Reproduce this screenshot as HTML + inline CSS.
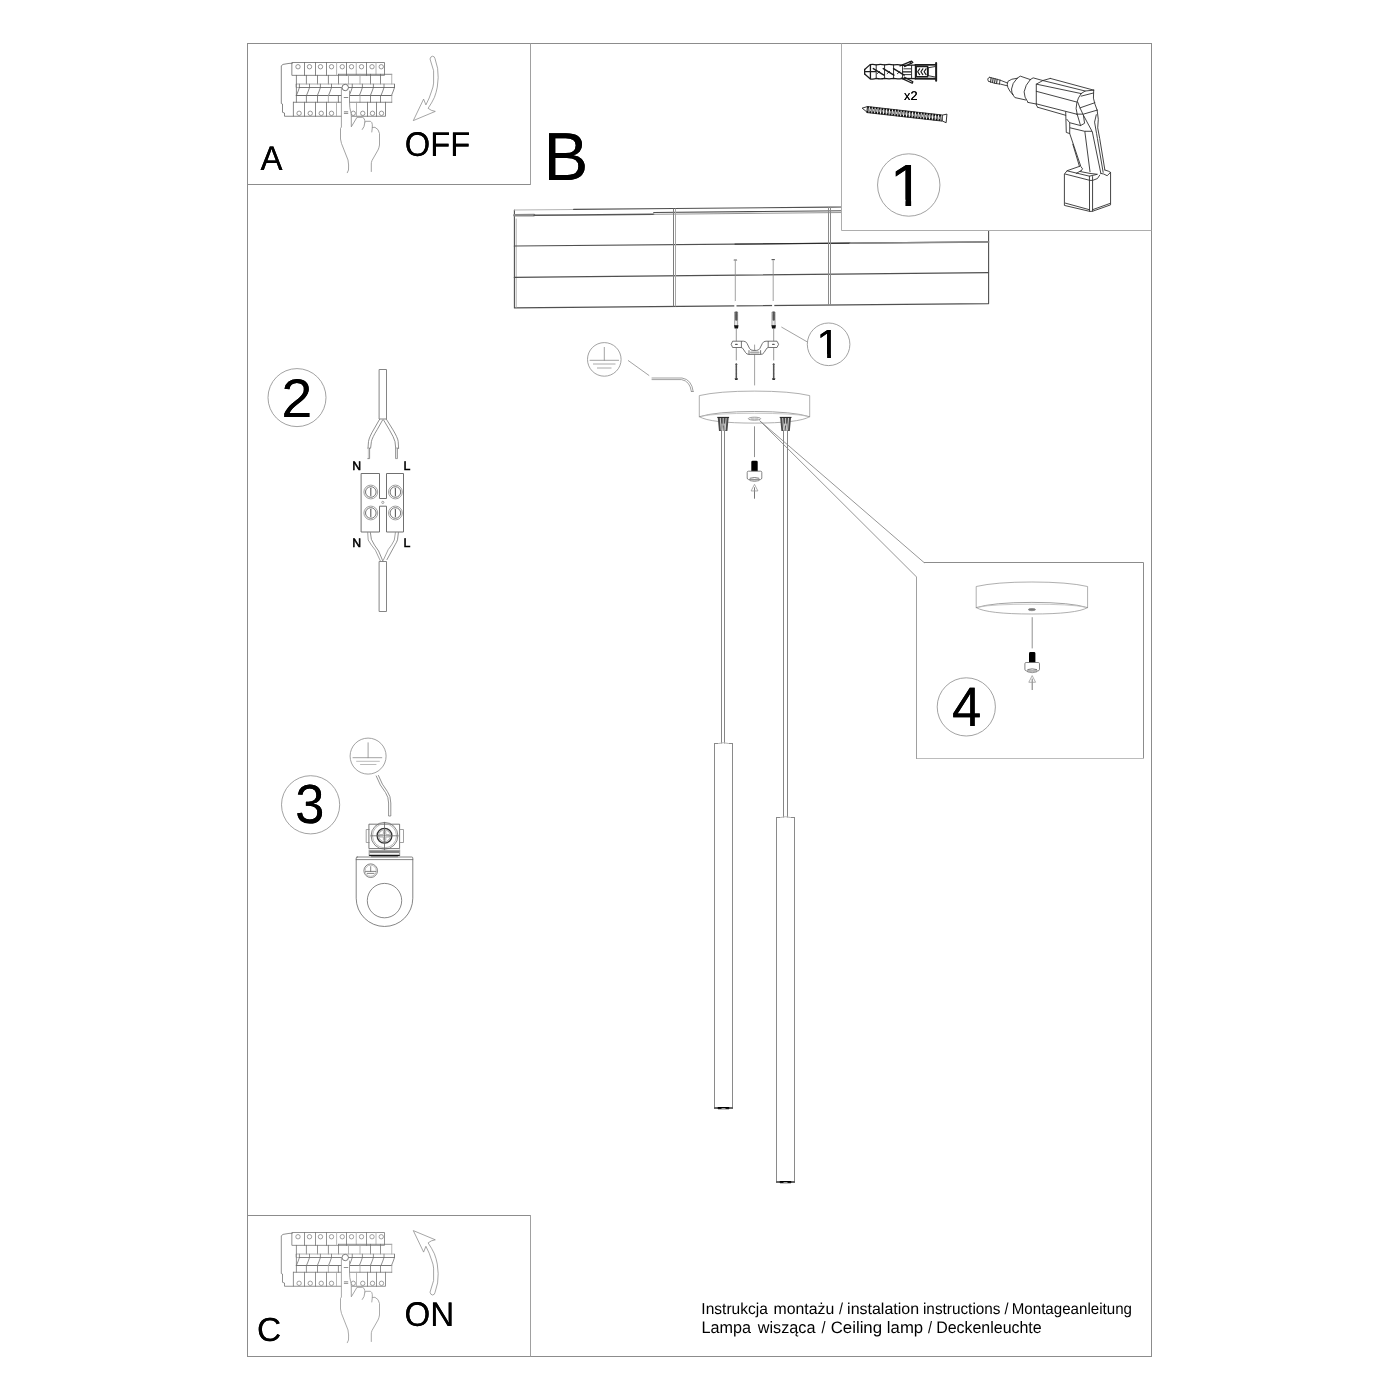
<!DOCTYPE html>
<html lang="pl">
<head>
<meta charset="utf-8">
<title>Instrukcja montażu / instalation instructions / Montageanleitung</title>
<style>
html,body{margin:0;padding:0;background:#fff;}
body{width:1400px;height:1400px;overflow:hidden;}
svg{display:block;will-change:transform;}
.f{fill:none;stroke:#8c8c8c;stroke-width:1;}
.fw{fill:#fff;stroke:#8c8c8c;stroke-width:1;}
.l{fill:none;stroke:#5c5c5c;stroke-width:.85;stroke-linecap:round;stroke-linejoin:round;}
.lw{fill:#fff;stroke:#5c5c5c;stroke-width:.85;stroke-linejoin:round;}
.g{fill:none;stroke:#8a8a8a;stroke-width:.8;stroke-linecap:round;stroke-linejoin:round;}
.gw{fill:#fff;stroke:#8a8a8a;stroke-width:.8;stroke-linejoin:round;}
.k{fill:none;stroke:#303030;stroke-width:.9;stroke-linecap:round;stroke-linejoin:round;}
.kw{fill:#fff;stroke:#303030;stroke-width:.9;stroke-linejoin:round;}
.b{fill:#000;stroke:none;}
circle,ellipse{stroke-linecap:butt !important;}
#plug .k,#screw .kw{stroke:#1c1c1c;}
#brk .l{stroke:#6a6a6a;stroke-width:.8;}
#brk .g{stroke:#a0a0a0;}
.t{font-family:"Liberation Sans",sans-serif;fill:#000;text-rendering:geometricPrecision;}
</style>
</head>
<body>
<svg width="1400" height="1400" viewBox="0 0 1400 1400" role="img" aria-label="Instrukcja montażu">
<rect x="0" y="0" width="1400" height="1400" fill="#fff"/>
<defs><filter id="vb" x="-5%" y="-5%" width="110%" height="110%"><feOffset dy="-0.22" result="a"/><feOffset in="SourceGraphic" dy="0.22" result="b"/><feMerge><feMergeNode in="a"/><feMergeNode in="b"/></feMerge></filter></defs>
<g id="frame">
<rect class="f" x="247.5" y="43.5" width="904" height="1313"/>
<path class="f" d="M247.5 184.5H531 M247.5 1215.5H531"/>
<path class="f" d="M530.5 43.5V185 M530.5 1215V1356.5" style="stroke:#a0a0a0"/>
</g>
<g id="labels">
<text class="t" transform="translate(260.62 169.50) scale(1.0025 1.0410)" font-size="32.98" filter="url(#vb)">A</text>
<text class="t" transform="translate(404.74 156.06) scale(0.9934 1.0410)" font-size="32.99" filter="url(#vb)">OFF</text>
<text class="t" transform="translate(543.46 179.75) scale(1.0278 1.0410)" font-size="65.32" filter="url(#vb)">B</text>
<text class="t" transform="translate(256.92 1341.27) scale(1.0416 1.0410)" font-size="32.18" filter="url(#vb)">C</text>
<text class="t" transform="translate(404.53 1326.36) scale(1.0044 1.0410)" font-size="32.99" filter="url(#vb)">ON</text>
<text class="t" transform="translate(0 1314.00) scale(1 1.0410)" font-size="15.20"><tspan x="701.36" y="0" textLength="66.47" lengthAdjust="spacingAndGlyphs">Instrukcja</tspan> <tspan x="773.43" y="0" textLength="60.81" lengthAdjust="spacingAndGlyphs">montażu</tspan> <tspan x="839.00" y="0" textLength="4.01" lengthAdjust="spacingAndGlyphs">/</tspan> <tspan x="847.12" y="0" textLength="71.93" lengthAdjust="spacingAndGlyphs">instalation</tspan> <tspan x="922.96" y="0" textLength="77.58" lengthAdjust="spacingAndGlyphs">instructions</tspan> <tspan x="1004.50" y="0" textLength="4.01" lengthAdjust="spacingAndGlyphs">/</tspan> <tspan x="1011.75" y="0" textLength="120.21" lengthAdjust="spacingAndGlyphs">Montageanleitung</tspan></text>
<text class="t" transform="translate(0 1333.00) scale(1 1.0410)" font-size="15.90"><tspan x="701.46" y="0" textLength="49.54" lengthAdjust="spacingAndGlyphs">Lampa</tspan> <tspan x="757.80" y="0" textLength="57.73" lengthAdjust="spacingAndGlyphs">wisząca</tspan> <tspan x="821.50" y="0" textLength="4.01" lengthAdjust="spacingAndGlyphs">/</tspan> <tspan x="830.66" y="0" textLength="51.43" lengthAdjust="spacingAndGlyphs">Ceiling</tspan> <tspan x="886.87" y="0" textLength="36.30" lengthAdjust="spacingAndGlyphs">lamp</tspan> <tspan x="928.00" y="0" textLength="4.01" lengthAdjust="spacingAndGlyphs">/</tspan> <tspan x="936.18" y="0" textLength="105.50" lengthAdjust="spacingAndGlyphs">Deckenleuchte</tspan></text>
</g>
<defs><g id="brk">
<path class="l" d="M292.25 63.3 L289 63.4 L283 64.4 L281.3 65.8 L281.3 103.5 L282.5 104 L282.5 112.3 L284.5 113 L284.5 116.25 L293.4 116.25" style="stroke:#6a6a6a"/>
<rect class="l" x="292.25" y="62.5" width="92.25" height="12.85"/>
<line class="l" x1="304.5" y1="62.5" x2="304.5" y2="75.35"/>
<line class="l" x1="315.5" y1="62.5" x2="315.5" y2="75.35"/>
<line class="l" x1="326.5" y1="62.5" x2="326.5" y2="75.35"/>
<line class="g" x1="336.6" y1="62.5" x2="336.6" y2="75.35"/>
<line class="l" x1="346.5" y1="62.5" x2="346.5" y2="75.35"/>
<line class="g" x1="356.25" y1="62.5" x2="356.25" y2="75.35"/>
<line class="l" x1="366.5" y1="62.5" x2="366.5" y2="75.35"/>
<line class="g" x1="376" y1="62.5" x2="376" y2="75.35"/>
<circle class="l" cx="298" cy="66.75" r="2.2" style="stroke:#7c7c7c"/>
<circle class="l" cx="309.5" cy="66.75" r="2.2" style="stroke:#7c7c7c"/>
<circle class="l" cx="320.5" cy="66.75" r="2.2" style="stroke:#7c7c7c"/>
<circle class="l" cx="331.5" cy="66.75" r="2.2" style="stroke:#7c7c7c"/>
<circle class="l" cx="342.25" cy="66.75" r="2.2" style="stroke:#7c7c7c"/>
<circle class="l" cx="351.5" cy="66.75" r="2.2" style="stroke:#7c7c7c"/>
<circle class="l" cx="361.5" cy="66.75" r="2.2" style="stroke:#7c7c7c"/>
<circle class="l" cx="372" cy="66.75" r="2.2" style="stroke:#7c7c7c"/>
<circle class="l" cx="381.25" cy="66.75" r="2.2" style="stroke:#7c7c7c"/>
<path class="l" d="M296.4 75.35V84 M338.4 74.3H391.75"/>
<line class="l" x1="306.4" y1="75.35" x2="306.4" y2="84"/>
<line class="l" x1="317.5" y1="75.35" x2="317.5" y2="84"/>
<line class="l" x1="328.4" y1="75.35" x2="328.4" y2="84"/>
<line class="l" x1="338.5" y1="74.3" x2="338.5" y2="84"/>
<line class="g" x1="348.5" y1="74.3" x2="348.5" y2="84"/>
<line class="g" x1="360" y1="74.3" x2="360" y2="84"/>
<line class="l" x1="370.5" y1="74.3" x2="370.5" y2="84"/>
<line class="l" x1="380.5" y1="74.3" x2="380.5" y2="84"/>
<line class="g" x1="391.75" y1="74.3" x2="391.75" y2="84"/>
<path class="g" d="M296.4 84H394.5V87.5H296.4Z"/>
<line class="l" x1="299.4" y1="87.5" x2="394.5" y2="87.5"/>
<line class="l" x1="299.4" y1="84.2" x2="299.4" y2="87.5"/>
<path class="l" d="M299.4 87.5 L298.2 91 L296.4 95.5"/>
<line class="l" x1="309.5" y1="84.2" x2="309.5" y2="87.5"/>
<path class="l" d="M309.5 87.5 L308.3 91 L306.5 95.5"/>
<line class="l" x1="320.4" y1="84.2" x2="320.4" y2="87.5"/>
<path class="l" d="M320.4 87.5 L319.2 91 L317.4 95.5"/>
<line class="l" x1="331.5" y1="84.2" x2="331.5" y2="87.5"/>
<path class="l" d="M331.5 87.5 L330.3 91 L328.5 95.5"/>
<line class="l" x1="352.25" y1="84.2" x2="352.25" y2="87.5"/>
<path class="l" d="M352.25 87.5 L351.05 91 L349.25 95.5"/>
<line class="l" x1="362.4" y1="84.2" x2="362.4" y2="87.5"/>
<path class="l" d="M362.4 87.5 L361.2 91 L359.4 95.5"/>
<line class="l" x1="373.4" y1="84.2" x2="373.4" y2="87.5"/>
<path class="l" d="M373.4 87.5 L372.2 91 L370.4 95.5"/>
<line class="l" x1="384" y1="84.2" x2="384" y2="87.5"/>
<path class="l" d="M384 87.5 L382.8 91 L381 95.5"/>
<line class="l" x1="394.5" y1="84.2" x2="394.5" y2="87.5"/>
<path class="l" d="M394.5 87.5 L393.3 91 L391.5 95.5"/>
<path class="l" d="M296.4 84V95.5"/>
<line class="l" x1="296.4" y1="95.5" x2="391.75" y2="95.5" style="stroke-width:1.2"/>
<line class="l" x1="296.4" y1="95.5" x2="296.4" y2="102.25"/>
<line class="l" x1="306.4" y1="95.5" x2="306.4" y2="102.25"/>
<line class="l" x1="317.5" y1="95.5" x2="317.5" y2="102.25"/>
<line class="g" x1="328.4" y1="95.5" x2="328.4" y2="102.25"/>
<line class="l" x1="338.4" y1="95.5" x2="338.4" y2="102.25"/>
<line class="l" x1="349.5" y1="95.5" x2="349.5" y2="102.25"/>
<line class="g" x1="360" y1="95.5" x2="360" y2="102.25"/>
<line class="l" x1="370.5" y1="95.5" x2="370.5" y2="102.25"/>
<line class="l" x1="380.5" y1="95.5" x2="380.5" y2="102.25"/>
<line class="g" x1="391.75" y1="95.5" x2="391.75" y2="102.25"/>
<line class="l" x1="293.4" y1="102.25" x2="391.75" y2="102.25"/>
<path class="l" d="M293.4 102.25V116.25H385.5V102.25"/>
<line class="l" x1="304.5" y1="102.25" x2="304.5" y2="116.25"/>
<line class="l" x1="315.5" y1="102.25" x2="315.5" y2="116.25"/>
<line class="l" x1="326.5" y1="102.25" x2="326.5" y2="116.25"/>
<line class="g" x1="336.5" y1="102.25" x2="336.5" y2="116.25"/>
<line class="g" x1="356.5" y1="102.25" x2="356.5" y2="116.25"/>
<line class="l" x1="367.5" y1="102.25" x2="367.5" y2="116.25"/>
<line class="l" x1="376.5" y1="102.25" x2="376.5" y2="116.25"/>
<circle class="l" cx="299.1" cy="113.3" r="2.2" style="stroke:#7c7c7c"/>
<circle class="l" cx="310.25" cy="113.3" r="2.2" style="stroke:#7c7c7c"/>
<circle class="l" cx="321.25" cy="113.3" r="2.2" style="stroke:#7c7c7c"/>
<circle class="l" cx="331.5" cy="113.3" r="2.2" style="stroke:#7c7c7c"/>
<circle class="l" cx="353.25" cy="113.3" r="2.2" style="stroke:#7c7c7c"/>
<circle class="l" cx="362.75" cy="113.3" r="2.2" style="stroke:#7c7c7c"/>
<circle class="l" cx="372.5" cy="113.3" r="2.2" style="stroke:#7c7c7c"/>
<circle class="l" cx="381.5" cy="113.3" r="2.2" style="stroke:#7c7c7c"/>
<path class="b" d="M341.4 86 L341.4 127 L340.5 128.5 L340.5 139 L348 160 L348.5 172 L371.3 171.5 L371.3 164 L379.5 145 L379.5 133 L375 127.3 L372.3 127.5 L372.3 124 L370.5 121.3 L366 121.3 L364.8 120 L362.5 117.3 L357 117.3 L351.3 126.8 L351.3 116.25 L350.5 111 L349.5 102 L349.5 90 Z" style="fill:#fff"/>
<path class="l" d="M341.4 87.5 L341.4 127 L340.5 128.5 L340.5 139 L341.5 143.5 L348 160 L348.6 165 L348.5 170 L347.3 172.7" style="stroke:#8c8c8c"/>
<path class="l" d="M349.5 91 L349.5 102 Q349.6 108 350.6 111.5 Q351.3 113.5 351.3 116.25 L351.3 126.8 L357 117.3 L362.5 117.3 Q364.6 118.2 364.8 120.5 L364.8 122.5 Q364.6 127 362.3 129.5" style="stroke:#858585"/>
<path class="l" d="M364.8 122.3 L366 121.3 L370.5 121.3 Q372.2 122.3 372.3 124.5 L372.3 127.5 L371.8 132" style="stroke:#8c8c8c"/>
<path class="l" d="M372.3 127.5 L375 127.3 Q378.8 129 379.5 133.5 L379.5 145 Q379 148 378 150 L372 160.5 Q371.2 162.5 371.3 164 L371.3 171.5" style="stroke:#8c8c8c"/>
<circle class="lw" cx="345.25" cy="87.5" r="3.2"/>
<line class="l" x1="344.2" y1="97.5" x2="347.8" y2="97.5"/>
<line class="l" x1="344.3" y1="111.8" x2="347.8" y2="111.8"/>
<line class="l" x1="344.3" y1="113.4" x2="347.8" y2="113.4"/>
</g>
<path id="arw" class="l" style="stroke:#808080;stroke-width:.7" d="M430.1 58.6 Q430.6 56.3 432.5 56.2 Q434.6 56.3 435 58.6 L437.6 68.3 Q438.9 77.4 437.3 87.1 Q436.3 92.5 434.4 97.4 Q431.8 103 428.1 108.3 Q431 110.8 435.3 111.4 L413.3 120.6 L423.6 99.1 L425.9 104.9 Q429.6 98 431.6 91.1 Q433.3 87 433.6 83.1 L433.6 71.1 Z"/>
</defs>
<use href="#brk"/>
<use href="#arw"/>
<use href="#brk" transform="translate(0,1170)" opacity=".92"/>
<use href="#arw" transform="translate(0,1351.2) scale(1,-1)"/>
<g id="ceiling">
<path class="l" d="M514.4 210 V307.9 L988.6 303.6 V230" style="stroke:#505050;stroke-width:1.1"/>
<path class="g" d="M516.2 219 V307.6" style="stroke:#9a9a9a"/>
<path class="g" d="M514.4 210 L573.6 209.5" style="stroke:#b4b4b4;stroke-width:1.2"/>
<path class="l" d="M573.6 209.4 L673.6 208.5 L829.5 207.1 L845 207" style="stroke:#505050;stroke-width:1.1"/>
<path class="g" d="M514.4 215.2 L534 215.1" style="stroke:#8a8a8a;stroke-width:2.6"/>
<path class="l" d="M534 215.3 L573.6 215 L653.7 214.2" style="stroke:#555;stroke-width:1.5"/>
<path class="l" d="M653.7 212.5 L750 211.6 L845 210.7" style="stroke:#505050;stroke-width:1.1"/>
<path class="l" d="M653.7 214.3 L750 213.4 L845 212.5" style="stroke:#8a8a8a;stroke-width:.9"/>
<path class="l" d="M514.3 246 L988.6 241.9" style="stroke:#505050;stroke-width:1.1"/>
<path class="l" d="M514.3 277.4 L988.6 272.6" style="stroke:#505050;stroke-width:1.1"/>
<path class="l" d="M735 244.1 L850 243.1" style="stroke:#2a2a2a;stroke-width:1"/>
<path class="f" d="M673.5 208.6 V306.4" style="stroke:#7c7c7c"/>
<path class="f" d="M675.5 208.6 V306.4" style="stroke:#a6a6a6"/>
<path class="f" d="M828.5 207.1 V305" style="stroke:#8a8a8a"/>
<path class="f" d="M830.5 207.1 V305" style="stroke:#8a8a8a"/>
<path class="l" d="M850 243.2 L988.6 242" style="stroke:#8a8a8a;stroke-width:1.5"/>
<path class="g" d="M735.3 261 V302 M773.2 261 V302"/>
<path class="l" d="M734.2 260 H736.6 M772 259.6 H774.4" style="stroke-width:1.2"/>
</g>
<rect class="b" x="734.3" y="301" width="2.2" height="6" style="fill:#fff"/>
<rect class="b" x="772.1" y="301" width="2.2" height="6" style="fill:#fff"/>
<rect class="fw" x="842" y="44.5" width="309" height="186" style="stroke:none"/>
<path class="f" d="M841.5 43.5 V230.5 H1151.5" style="stroke:#adadad"/>
<circle class="g" cx="908.75" cy="185" r="31.2"/>
<defs><clipPath id="c1" clipPathUnits="userSpaceOnUse"><path d="M0 -75H34.2V2H25V-10.5H0Z"/></clipPath></defs>
<text class="t" filter="url(#vb)" clip-path="url(#c1)" transform="translate(889.70 206.00) scale(0.6286 0.5974)" font-size="100">1</text>
<text class="t" transform="translate(904.04 99.90) scale(1.0475 1.0410)" font-size="12.12" filter="url(#vb)">x2</text>
<g id="plug">
<path class="k" d="M864.64 69.46 L870.11 64.64 Q873.32 64 876.21 64.96 Q880.39 64 884.57 64.96 Q889.07 64 893.57 64.96 Q898.07 64.32 902.57 65.29 L935.35 64.64" style="stroke-width:1.25"/>
<path class="k" d="M864.64 73.96 L870.11 78.79 Q873.32 79.43 876.21 78.46 Q880.39 79.43 884.57 78.46 Q889.07 79.43 893.57 78.46 Q898.07 79.3 902.57 78.27 L935.35 78.79" style="stroke-width:1.25"/>
<path class="k" d="M864.64 69.46 L864.64 73.96" style="stroke-width:1.25"/>
<path class="k" d="M915.43 64.77 L935.35 64.77" style="stroke-width:1.7"/>
<path class="k" d="M915.43 78.66 L935.35 78.66" style="stroke-width:1.7"/>
<path class="k" d="M936.13 63.04 L936.13 80.71" style="stroke-width:2"/>
<path class="k" d="M864.64 71.71 L875.57 71.71" style="stroke-width:1.3"/>
<path class="k" d="M902.57 71.84 L910.93 71.84" style="stroke-width:1.3"/>
<path class="k" d="M903.86 68.82 L910.93 68.82"/>
<path class="k" d="M903.86 74.61 L910.93 74.61"/>
<path class="k" d="M870.43 64.77 L870.43 78.66" style="stroke-width:1.3"/>
<path class="k" d="M876.21 64.77 L876.21 78.66" style="stroke-width:.9"/>
<path class="k" d="M884.57 64.77 L884.57 78.66" style="stroke-width:.9"/>
<path class="k" d="M893.57 64.77 L893.57 78.66" style="stroke-width:.9"/>
<path class="k" d="M902.57 64.77 L902.57 78.66" style="stroke-width:.9"/>
<path class="k" d="M873.32 68.63 L883.93 75.06" style="stroke-width:1.5"/>
<path class="k" d="M877.18 73.64 L879.75 71.39"/>
<path class="k" d="M883.28 68.63 L893.89 75.06" style="stroke-width:1.5"/>
<path class="k" d="M887.14 73.64 L889.71 71.39"/>
<path class="k" d="M893.57 68.63 L904.18 75.06" style="stroke-width:1.5"/>
<path class="k" d="M897.43 73.64 L900 71.39"/>
<path class="k" d="M900 65.93 L911.57 61.11 L912.86 62.39 L904.5 66.57" style="stroke-width:1.25"/>
<path class="k" d="M909.64 61.75 L911.57 63.36"/>
<path class="k" d="M904.5 77.18 L912.86 81.68 L912.21 83.28 L901.28 78.14" style="stroke-width:1.25"/>
<path class="k" d="M911.57 65.29 L911.57 78.14"/>
<path class="k" d="M915.43 64.77 L915.43 78.66" style="stroke-width:1.25"/>
<path class="k" d="M916.2 66.57 L927.64 66.57 L927.64 76.86 L916.2 76.86Z" style="stroke-width:1.5"/>
<path class="k" d="M919.61 68.82 L917.68 71.71 L919.61 74.61" style="stroke-width:1.2"/>
<path class="k" d="M922.82 68.82 L920.89 71.71 L922.82 74.61" style="stroke-width:1.2"/>
<path class="k" d="M926.03 68.82 L924.11 71.71 L926.03 74.61" style="stroke-width:1.2"/>
<path class="k" d="M927.64 67.86 L935.03 66.57"/>
<path class="k" d="M927.64 75.57 L935.03 76.99"/>
<path class="k" d="M928.28 67.86 L928.28 75.57"/>
</g>
<g id="screw">
<line x1="866.79" y1="109.5" x2="942.29" y2="118.07" stroke="#111" stroke-width="6.4" stroke-dasharray="1.9 1"/>
<line x1="866.79" y1="109.5" x2="942.29" y2="118.07" stroke="#fff" stroke-width="2.6" stroke-dasharray="1 1.9" stroke-dashoffset="-0.45" opacity=".75"/>
<line x1="866.79" y1="106.43" x2="942.29" y2="115" stroke="#111" stroke-width=".8"/>
<line x1="866.79" y1="112.57" x2="942.29" y2="121.14" stroke="#111" stroke-width=".8"/>
<path class="kw" d="M862.14 108.14 L867.5 106.57 L866.79 111.93Z"/>
<path class="kw" d="M942.29 115.14 L946.93 114.14 L946.14 122.71 L942.29 121Z"/>
</g>
<g id="drill">
<path class="k" d="M989.43 77.29 L997.14 79.29 L1001.14 80.54 L1007.43 83"/>
<path class="k" d="M988.57 81.29 L994.86 83.4 L1000.57 84.14 L1006.86 85.69"/>
<path class="k" d="M989.43 77.29 Q986.29 78.71 988.57 81.29"/>
<path class="k" d="M991.14 77.69 L990.57 82.14" style="stroke-width:1.1"/>
<path class="k" d="M993.14 78.23 L992.57 82.54" style="stroke-width:1.1"/>
<path class="k" d="M995.14 78.77 L994.57 82.94" style="stroke-width:1.1"/>
<path class="k" d="M997.14 79.31 L996.57 83.34" style="stroke-width:1.1"/>
<path class="k" d="M1000 79.97 L999.43 84.14"/>
<path class="k" d="M1017.14 78.26 Q1010.86 78.71 1008 81.29 Q1005.14 86.71 1012.86 94.71"/>
<path class="k" d="M1017.14 78.26 Q1012 83.29 1011.54 89 Q1011.43 92.43 1012.86 94.71"/>
<path class="k" d="M1017.14 78.26 L1020.29 76.14 L1030.29 79.57"/>
<path class="k" d="M1012.86 94.71 L1014.86 97.57 L1025.71 99.97"/>
<path class="k" d="M1030.29 79.57 Q1025.14 85 1024.11 91.86 Q1024 97 1028 102.43"/>
<path class="k" d="M1030.29 79.57 L1033.14 77.86 L1042.86 80.54"/>
<path class="k" d="M1028 102.43 L1036 103.97"/>
<path class="k" d="M1050.29 78.43 L1042.86 80.54 L1036.29 84.14 L1036.29 105 L1037.71 107.29"/>
<path class="k" d="M1050.29 78.43 L1093.71 90.14"/>
<path class="k" d="M1042.86 80.54 L1085.14 91"/>
<path class="k" d="M1036.29 84.14 L1081.14 93.57"/>
<path class="k" d="M1036.29 91.29 L1077.14 102.14"/>
<path class="k" d="M1036.29 103.86 L1076.57 114.14"/>
<path class="k" d="M1037.71 107.29 L1065.71 115.29"/>
<path class="k" d="M1081.14 93.57 L1085.14 91 L1093.71 90.14"/>
<path class="k" d="M1081.14 93.57 Q1077.71 98.14 1076.86 102.71 Q1075.14 108.43 1077.14 114.14"/>
<path class="k" d="M1093.71 90.14 L1093.43 98.14 L1094.86 103.86 L1097.14 110.14"/>
<path class="k" d="M1081.14 96.14 L1093.43 93"/>
<path class="k" d="M1080 107.86 L1094.86 102.71"/>
<path class="k" d="M1076.57 114.14 L1083.43 114.14 L1097.14 110.14"/>
<path class="k" d="M1077.71 102.14 L1080 107.86 L1083.43 115.29 L1091.43 130.14 L1092 131.86 L1092.29 131.71 L1100.86 173.43"/>
<path class="k" d="M1077.14 114.14 L1080.57 125.57 L1084.57 123.29 L1083.43 115.29"/>
<path class="k" d="M1065.71 111.86 L1066.29 132.43 L1069.71 133.57 L1069.71 122.71 L1066.86 119.29"/>
<path class="k" d="M1069.71 122.71 L1080.57 125.57"/>
<path class="k" d="M1070.29 127.86 L1084.57 131.29 L1091.43 131.29"/>
<path class="k" d="M1069.71 133.57 L1080.86 166.57 L1082.57 168.86 L1081.14 170.69"/>
<path class="k" d="M1072.86 144.29 L1079.43 166.29"/>
<path class="k" d="M1085.14 131.29 L1084.86 131.71 L1090 171.71"/>
<path class="k" d="M1097.14 110.14 L1098.29 119.29 L1097.71 127.86 L1099.71 138.57 L1104.86 170"/>
<path class="k" d="M1096.29 114.71 L1094.57 122.14 L1096.57 133.57 L1097.43 138.57 L1103.14 172.29"/>
<path class="k" d="M1079.71 166.29 L1067.14 170.69 L1064.4 174 L1064.4 205.43 L1090 211.43 L1092.57 211.26 L1110.57 204.86 L1110.57 172.4 L1108.29 171.14 L1104.86 170"/>
<path class="k" d="M1065.43 174.11 L1090 180.4 L1092.57 180.4 L1097.43 178.57 L1099.71 175.14"/>
<path class="k" d="M1067.14 170.86 L1089.43 176.17 L1097.43 174.29 L1090 173.43 L1079.71 171.43 L1076.29 173.43"/>
<path class="k" d="M1079.71 171.43 L1081.14 170.69"/>
<path class="k" d="M1089.43 176.17 L1089.54 211.14"/>
<path class="k" d="M1092.57 176.57 L1092.57 211.14"/>
<path class="k" d="M1065.43 203.14 L1089.43 209.71"/>
<path class="k" d="M1092.57 209.71 L1110 203.43"/>
<path class="k" d="M1110.57 172.4 L1107.14 175.71 L1103.71 174 L1100.86 173.43"/>
</g>
<g id="mount">
<path class="g" d="M736.3 329 V341.5 M736.3 347.5 V360" style="stroke:#808080" stroke-dasharray="12.5 6 8.5 30"/>
<rect class="l" x="734.95" y="312" width="2.7" height="14" style="fill:#e8e8e8;stroke:#6a6a6a;stroke-width:.6"/>
<path class="l" d="M736.3 312.6 V319.5" style="stroke:#555;stroke-width:2.4" stroke-dasharray=".7 .6"/>
<path class="b" d="M734.1 325.2 h4.4 l-.5 3.4 h-3.4 Z" style="fill:#111"/>
<path class="l" d="M736.3 364.6 V378.4" style="stroke:#555;stroke-width:1.6" stroke-dasharray=".9 .5"/>
<path class="l" d="M735.5 364.6 l.8 -1.6 l.8 1.6" style="stroke:#555;stroke-width:.6"/>
<path class="b" d="M734.6 378.2 h3.4 l-.5 1.8 h-2.4 Z" style="fill:#333"/>
<path class="g" d="M773.7 329 V341.5 M773.7 347.5 V360" style="stroke:#808080" stroke-dasharray="12.5 6 8.5 30"/>
<rect class="l" x="772.35" y="312" width="2.7" height="14" style="fill:#e8e8e8;stroke:#6a6a6a;stroke-width:.6"/>
<path class="l" d="M773.7 312.6 V319.5" style="stroke:#555;stroke-width:2.4" stroke-dasharray=".7 .6"/>
<path class="b" d="M771.5 325.2 h4.4 l-.5 3.4 h-3.4 Z" style="fill:#111"/>
<path class="l" d="M773.7 364.6 V378.4" style="stroke:#555;stroke-width:1.6" stroke-dasharray=".9 .5"/>
<path class="l" d="M772.9 364.6 l.8 -1.6 l.8 1.6" style="stroke:#555;stroke-width:.6"/>
<path class="b" d="M772 378.2 h3.4 l-.5 1.8 h-2.4 Z" style="fill:#333"/>
<path class="g" d="M754.6 345 V385"/>
<path class="lw" d="M732.6 341.2 H743.5 Q746 341.2 747 343.4 L749.6 348.5 Q750.6 350.4 753 350.4 H756.5 Q758.8 350.4 759.8 348.5 L762.4 343.4 Q763.4 341.2 766 341.2 H777 L778.6 344.3 L777 347.5 H768.5 Q767 347.5 766.3 349 L764 352.6 Q763 354.4 760.6 354.4 H749 Q746.6 354.4 745.6 352.6 L743.2 349 Q742.5 347.5 741 347.5 H732.6 L731.2 344.3 Z"/>
<path class="l" d="M741.4 341.4 V347.3 M768.2 341.4 V347.3 M749 350.6 V354.2 M760.6 350.6 V354.2"/>
<path class="l" d="M735.6 344.4 h1.6 M772.6 344.4 h1.6" style="stroke-width:1.1"/>
<path class="g" d="M751 352.4 H758.6" style="stroke-width:2;stroke:#aaa"/>
<line class="g" x1="781.7" y1="327.2" x2="806.9" y2="341.7"/>
<circle class="g" cx="828.6" cy="344.3" r="21.3"/>
<text class="t" filter="url(#vb)" clip-path="url(#c1)" transform="translate(816.59 357.90) scale(0.4204 0.4070)" font-size="100">1</text>
<circle class="g" cx="604.3" cy="359.4" r="16.8"/>
<path class="g" d="M604.3 347.4 V360.3 M590 360.3 H618.6"/>
<path class="g" d="M593.4 364 H615.1 M597.4 368 H611.1" style="stroke:#aaa;stroke-width:1"/>
<line class="g" x1="628.3" y1="360.6" x2="648.9" y2="375.4"/>
<path class="g" d="M652 378 H682 Q691.8 379.5 693.2 391.5"/>
<path class="g" d="M652 379.6 H681.5 Q690 381 691.4 391.5"/>
<path class="g" d="M691.4 391.5 H693.2"/>
<path class="gw" d="M699.3 395.6 Q718.62 391.1 754.5 391.1 Q790.38 391.1 809.7 395.6 L809.7 416.7 Q798.66 423.1 754.5 423.1 Q710.34 423.1 699.3 416.7 Z" style="stroke:#9a9a9a"/>
<path class="g" d="M699.3 416.7 Q715.86 411.5 754.5 411.5 Q793.14 411.5 809.7 416.7"/>
<path class="g" d="M702.3 416.1 Q715.86 413.3 754.5 413.3 Q793.14 413.3 806.7 416.1" style="stroke:#bbb"/>
<ellipse class="g" cx="754.5" cy="418.7" rx="6.2" ry="1.5"/>
<ellipse class="g" cx="754.5" cy="418.9" rx="3.8" ry="0.8" style="stroke:#aaa"/>
<path class="g" d="M760 421 L924 562.5" style="stroke:#8a8a8a;stroke-width:.9"/>
<path class="g" d="M760 421 L916.6 577" style="stroke:#8a8a8a;stroke-width:.9"/>
<path class="b" d="M717.7 417.3 h11 l-1.3 13.8 h-8.4 Z" style="fill:#4a4a4a"/>
<path class="l" d="M720.3 418.2 l.9 12 M726.1 418.2 l-.9 12 M723.2 418.2 v7 M722 424 l.5 6.6 M724.4 424 l-.5 6.6" style="stroke:#eee;stroke-width:.8"/>
<path class="l" d="M717.7 417.4 h11" style="stroke:#222;stroke-width:1"/>
<path class="b" d="M780.1 417.3 h11 l-1.3 13.8 h-8.4 Z" style="fill:#4a4a4a"/>
<path class="l" d="M782.7 418.2 l.9 12 M788.5 418.2 l-.9 12 M785.6 418.2 v7 M784.4 424 l.5 6.6 M786.8 424 l-.5 6.6" style="stroke:#eee;stroke-width:.8"/>
<path class="l" d="M780.1 417.4 h11" style="stroke:#222;stroke-width:1"/>
<path class="f" d="M721.5 431 V743.5 M724.5 431 V743.5" style="stroke:#868686"/>
<path class="f" d="M783.5 431 V817.5 M787.5 431 V817.5" style="stroke:#868686"/>
<path class="f" d="M714.5 743.5 V1108 M732.5 743.5 V1108" style="stroke:#8a8a8a"/>
<path class="f" d="M714 743.5 H718.5 M728.5 743.5 H733" style="stroke:#8a8a8a"/>
<path class="f" d="M718.5 743.5 Q723.5 741.9 728.5 743.5" style="stroke:#b5b5b5"/>
<path class="f" d="M714 1108 H733" style="stroke:#555;stroke-width:1.8"/>
<path class="f" d="M718.5 1108 H728.5" style="stroke:#000;stroke-width:1.8;stroke-linecap:round"/>
<path class="f" d="M721.5 1108.5 H725.5" style="stroke:#999;stroke-width:1"/>
<path class="f" d="M718 1109.4 H729" style="stroke:#bbb;stroke-width:1"/>
<path class="f" d="M776.5 817.5 V1182 M794.5 817.5 V1182" style="stroke:#8a8a8a"/>
<path class="f" d="M776 817.5 H780.5 M790.5 817.5 H795" style="stroke:#8a8a8a"/>
<path class="f" d="M780.5 817.5 Q785.5 815.9 790.5 817.5" style="stroke:#b5b5b5"/>
<path class="f" d="M776 1182 H795" style="stroke:#555;stroke-width:1.8"/>
<path class="f" d="M780.5 1182 H790.5" style="stroke:#000;stroke-width:1.8;stroke-linecap:round"/>
<path class="f" d="M783.5 1182.5 H787.5" style="stroke:#999;stroke-width:1"/>
<path class="f" d="M780 1183.4 H791" style="stroke:#bbb;stroke-width:1"/>
<path class="f" d="M754.5 426.3 V457.1" style="stroke:#909090"/>
<path class="b" d="M751.3 462.1 q0 -1.4 1.4 -1.4 h3.6 q1.4 0 1.4 1.4 v9.4 h-6.4 Z" style="fill:#000"/>
<path class="gw" d="M749.9 477.6 v3 q4.6 1.6 9.2 0 v-3" style="stroke:#777"/>
<path class="gw" d="M747.2 472.4 q0 -1.2 1.2 -1.2 h12.2 q1.2 0 1.2 1.2 v5.6 q0 1.2 -1.4 1.6 h-11.8 q-1.4 -.4 -1.4 -1.6 Z" style="stroke:#666"/>
<path class="g" d="M750.1 478.2 q4.4 -1.4 8.8 0" style="stroke:#555"/>
<path class="g" d="M750.9 480 q3.6 1.2 7.2 0" style="stroke:#aaa"/>
<path class="f" d="M754.5 487.3 V498.7" style="stroke:#777"/>
<path class="g" d="M751.3 490.6 L754.5 484.3 L757.7 490.6 Z" style="stroke:#999"/>
</g>
<g id="box4">
<path class="f" d="M924 562.5 H1143.5 V759"/>
<path class="f" d="M1144 758.5 H916" style="stroke:#bcbcbc"/>
<path class="f" d="M916.5 759 V577" style="stroke:#a0a0a0"/>
<path class="gw" d="M976.2 586.5 Q995.695 582 1031.9 582 Q1068.11 582 1087.6 586.5 L1087.6 607.6 Q1076.46 614 1031.9 614 Q987.34 614 976.2 607.6 Z" style="stroke:#9a9a9a"/>
<path class="g" d="M976.2 607.6 Q992.91 602.4 1031.9 602.4 Q1070.89 602.4 1087.6 607.6"/>
<path class="g" d="M979.2 607 Q992.91 604.2 1031.9 604.2 Q1070.89 604.2 1084.6 607" style="stroke:#bbb"/>
<ellipse class="g" cx="1031.9" cy="609.6" rx="3.6" ry="1.1" style="fill:#777"/>
<path class="f" d="M1032.2 617.2 V648.4" style="stroke:#909090"/>
<path class="b" d="M1029 653.4 q0 -1.4 1.4 -1.4 h3.6 q1.4 0 1.4 1.4 v9.4 h-6.4 Z" style="fill:#000"/>
<path class="gw" d="M1027.6 668.9 v3 q4.6 1.6 9.2 0 v-3" style="stroke:#777"/>
<path class="gw" d="M1024.9 663.7 q0 -1.2 1.2 -1.2 h12.2 q1.2 0 1.2 1.2 v5.6 q0 1.2 -1.4 1.6 h-11.8 q-1.4 -.4 -1.4 -1.6 Z" style="stroke:#666"/>
<path class="g" d="M1027.8 669.5 q4.4 -1.4 8.8 0" style="stroke:#555"/>
<path class="g" d="M1028.6 671.3 q3.6 1.2 7.2 0" style="stroke:#aaa"/>
<path class="f" d="M1032.2 678.6 V690" style="stroke:#777"/>
<path class="g" d="M1029 681.9 L1032.2 675.6 L1035.4 681.9 Z" style="stroke:#999"/>
<circle class="g" cx="966.3" cy="706.9" r="29.1"/>
<text class="t" transform="translate(951.91 726.30) scale(0.9843 1.0410)" font-size="53.51" filter="url(#vb)">4</text>
</g>
<g id="step2">
<circle class="g" cx="297" cy="397.6" r="29"/>
<text class="t" transform="translate(281.54 416.90) scale(1.0541 1.0410)" font-size="52.33" filter="url(#vb)">2</text>
<rect class="g" x="379.5" y="369.5" width="7" height="49.5" style="stroke:#858585;stroke-width:1"/>
<rect class="g" x="379.5" y="561.5" width="7" height="50" style="stroke:#858585;stroke-width:1"/>
<path class="g" d="M379.6 419.3 L374 429 Q369.2 437 368.5 441.5 L368 448.2" style="stroke:#747474;stroke-width:.8"/>
<path class="g" d="M382.6 420 L377.2 429.6 Q372.3 437.4 371.4 441.6 L370.6 448.2 H368" style="stroke:#747474;stroke-width:.8"/>
<path class="g" d="M383.6 420 L389.4 429.8 Q394 437.6 395 441.6 L395.7 448.2 H398.6" style="stroke:#747474;stroke-width:.8"/>
<path class="g" d="M386.4 419.3 L392.6 429.2 Q397.6 437.4 398.2 441.4 L398.6 448.2" style="stroke:#747474;stroke-width:.8"/>
<rect class="b" x="367.8" y="448.4" width="1.2" height="10.2" style="fill:#d0d0d0"/>
<path class="g" d="M369.6 448.4 V458.6 H367.8" style="stroke:#747474;stroke-width:.8"/>
<rect class="b" x="395.6" y="448.4" width="1.2" height="10.2" style="fill:#d8d8d8"/>
<path class="g" d="M395.5 448.4 V458.6 H397.5 V448.4" style="stroke:#8a8a8a;stroke-width:.8"/>
<path class="g" d="M367.7 532.6 L368.2 540 Q371 545 375.4 550.2 L380.2 560.6" style="stroke:#8a8a8a;stroke-width:.8"/>
<path class="g" d="M370.4 532.6 L371.4 539.4 Q374 545 378.6 551 L382.9 561.2" style="stroke:#747474;stroke-width:.8"/>
<path class="g" d="M395.4 532.6 L394.3 540 Q392 545 388.2 549.6 L383.2 560.4" style="stroke:#8a8a8a;stroke-width:.8"/>
<path class="g" d="M398.4 532.6 L397.5 539.8 Q396.6 542.4 395.4 544.2 L387 559.6" style="stroke:#747474;stroke-width:.8"/>
<path class="l" d="M361.5 473.5 H379.5 V498.5 H386.5 V473.5 H403.5 V532 H386.5 V506.2 H379.5 V532 H361.5 Z" style="stroke:#707070;stroke-width:1;stroke-linejoin:miter"/>
<circle class="g" cx="382.8" cy="502.4" r="1.1"/>
<circle class="g" cx="370.8" cy="492" r="6.9"/>
<circle class="l" cx="370.8" cy="492" r="5.3"/>
<path class="l" d="M370.8 488.2 V495.8" style="stroke-width:1.1"/>
<circle class="g" cx="370.8" cy="513" r="6.9"/>
<circle class="l" cx="370.8" cy="513" r="5.3"/>
<path class="l" d="M370.8 509.2 V516.8" style="stroke-width:1.1"/>
<circle class="g" cx="395.4" cy="492" r="6.9"/>
<circle class="l" cx="395.4" cy="492" r="5.3"/>
<path class="l" d="M395.4 488.2 V495.8" style="stroke-width:1.1"/>
<circle class="g" cx="395.4" cy="513" r="6.9"/>
<circle class="l" cx="395.4" cy="513" r="5.3"/>
<path class="l" d="M395.4 509.2 V516.8" style="stroke-width:1.1"/>
<text class="t" transform="translate(352.19 469.70) scale(1.0469 1.0410)" font-size="11.74" stroke="#000" stroke-width=".5">N</text>
<text class="t" transform="translate(403.58 469.70) scale(1.0553 1.0410)" font-size="11.74" stroke="#000" stroke-width=".5">L</text>
<text class="t" transform="translate(352.19 547.30) scale(1.0469 1.0410)" font-size="11.74" stroke="#000" stroke-width=".5">N</text>
<text class="t" transform="translate(403.58 547.30) scale(1.0553 1.0410)" font-size="11.74" stroke="#000" stroke-width=".5">L</text>
</g>
<g id="step3">
<circle class="g" cx="310.6" cy="804.8" r="29.1"/>
<text class="t" transform="translate(295.13 823.35) scale(0.9925 1.0410)" font-size="52.82" filter="url(#vb)">3</text>
<circle class="g" cx="368.1" cy="756.1" r="18"/>
<path class="g" d="M368.1 742.8 V757.7 M353 757.7 H381.8"/>
<path class="g" d="M356.6 761.3 H379.4 M360.5 764.5 H376" style="stroke:#aaa"/>
<path class="g" d="M376.2 776 Q380 786 385.5 792.5 Q388.6 797 388.6 803 V816 H390.8 V803 Q390.8 796 387.4 791.5 Q382 785 378.4 775.5" style="stroke:#777"/>
<rect class="g" x="369.3" y="824.2" width="30.3" height="24.4" style="stroke:#6a6a6a;stroke-width:.9"/>
<path class="g" d="M369.2 829.5 H366.2 V842.5 H369.2 M399.7 829.5 H403.5 V842.5 H399.7"/>
<circle class="g" cx="384.5" cy="835.8" r="13.4" style="stroke:#666"/>
<circle class="g" cx="384.5" cy="835.8" r="12" style="stroke:#aaa"/>
<circle class="l" cx="384.5" cy="835.8" r="7.4" style="stroke:#333;stroke-width:1.3"/>
<circle class="g" cx="384.5" cy="835.8" r="5.9"/>
<path class="g" d="M371 835.8 H398 M384.5 822.4 V850" style="stroke:#666"/>
<path class="g" d="M380 834.6 H383.4 V831.4 H385.8 V834.6 H389.2 V837 H385.8 V840.2 H383.4 V837 H380 Z" style="stroke:#999"/>
<rect class="b" x="369.7" y="850.2" width="29.5" height="2.9" style="fill:#8a8a8a"/>
<path class="l" d="M369.7 851.6 H399.2" style="stroke:#777;stroke-width:.6"/>
<path class="g" d="M369.2 850 V855.5 M399.7 850 V855.5" style="stroke:#777"/>
<path class="l" d="M369.7 855.4 H399.2" style="stroke:#111;stroke-width:1.1"/>
<path class="l" d="M371.5 856.7 H397.5" style="stroke:#999;stroke-width:1.2"/>
<path class="g" d="M357.2 857 H411.8 Q412.8 857 412.8 858 V898.2 A28.3 28.3 0 0 1 356.2 898.2 V858 Q356.2 857 357.2 857 Z" style="stroke:#666"/>
<path class="g" d="M356.2 859.6 H412.8" style="stroke:#666"/>
<circle class="g" cx="384.5" cy="900.6" r="17.2" style="stroke:#6a6a6a"/>
<circle class="g" cx="370.7" cy="870.7" r="6.8" style="stroke:#666"/>
<circle class="g" cx="370.7" cy="870.7" r="5.6" style="stroke:#aaa"/>
<path class="g" d="M370.7 866.6 V871.4 M365.6 871.4 H375.8 M367.4 873.4 H374" style="stroke:#666"/>
</g>
</svg>
</body>
</html>
